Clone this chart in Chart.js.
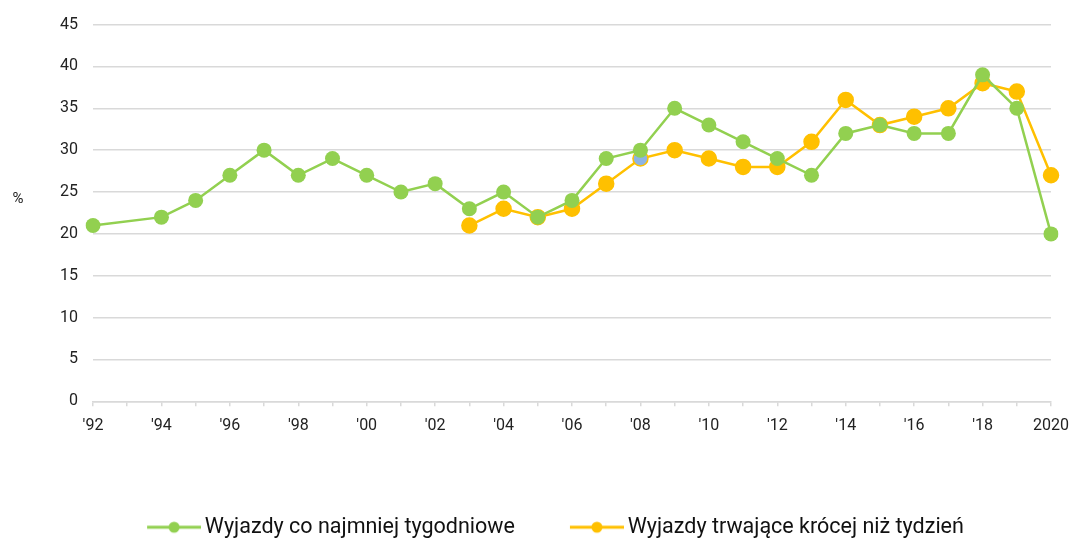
<!DOCTYPE html>
<html lang="pl">
<head>
<meta charset="utf-8">
<script src="https://cdn.jsdelivr.net/npm/chart.js@4"></script>
<style>
    html, body { margin: 0; padding: 0; background: #fff; }
    #wrap { width: 1079px; height: 538px; position: relative; }
</style>
</head>
<body>
<div id="wrap"><canvas id="chart" width="1079" height="538"></canvas></div>
<script>
// dane
const years = [];
for (let y = 1992; y <= 2020; y++) years.push(y);

const weeklyTrips = [21, null, 22, 24, 27, 30, 27, 29, 27, 25, 26, 23, 25, 22, 24, 29, 30, 35, 33, 31, 29, 27, 32, 33, 32, 32, 39, 35, 20];
const shortTrips = [null, null, null, null, null, null, null, null, null, null, null, 21, 23, 22, 23, 26, 29, 30, 29, 28, 28, 31, 36, 33, 34, 35, 38, 37, 27];

const seriesNames = ['Wyjazdy co najmniej tygodniowe', 'Wyjazdy trwające krócej niż tydzień'];
const green = '#92D050';
const orange = '#FFC000';
const highlightFill = '#8EB4E3';

// ikona legendy: linia z kropką (z pustym marginesem z lewej)
function legendIcon(color) {
    const m = 32;
    const c = document.createElement('canvas');
    c.width = m + 54;
    c.height = 14;
    const ctx = c.getContext('2d');
    ctx.strokeStyle = color;
    ctx.lineWidth = 3;
    ctx.beginPath();
    ctx.moveTo(m, 7);
    ctx.lineTo(m + 54, 7);
    ctx.stroke();
    ctx.fillStyle = color;
    ctx.beginPath();
    ctx.arc(m + 27, 7, 5.5, 0, Math.PI * 2);
    ctx.fill();
    return c;
}

// tytuł osi Y bez obrotu
const percentLabel = {
    id: 'percentLabel',
    afterDraw(chart) {
        const ctx = chart.ctx;
        ctx.save();
        ctx.font = '15px Roboto';
        ctx.fillStyle = '#222';
        ctx.textAlign = 'center';
        ctx.textBaseline = 'middle';
        ctx.fillText('%', 18, 199);
        ctx.restore();
    }
};

// kolor punktu 2008 w drugiej serii
const shortFill = years.map(y => y === 2008 ? highlightFill : orange);

const ctx = document.getElementById('chart').getContext('2d');
new Chart(ctx, {
    type: 'line',
    data: {
        labels: years,
        datasets: [{
            label: seriesNames[0],
            data: weeklyTrips,
            borderColor: green,
            backgroundColor: green,
            borderWidth: 2.5,
            pointRadius: 7.5,
            pointHoverRadius: 7.5,
            pointBorderWidth: 0,
            spanGaps: true,
            tension: 0
        }, {
            label: seriesNames[1],
            data: shortTrips,
            borderColor: orange,
            backgroundColor: shortFill,
            pointBorderColor: orange,
            borderWidth: 2.5,
            pointRadius: 7.5,
            pointHoverRadius: 7.5,
            pointBorderWidth: 1.5,
            spanGaps: false,
            tension: 0
        }]
    },
    options: {
        responsive: false,
        animation: false,
        maintainAspectRatio: false,
        layout: {
            padding: { left: 24, right: 17, top: 16, bottom: -10 }
        },
        scales: {
            x: {
                offset: false,
                grid: {
                    drawOnChartArea: false,
                    drawTicks: true,
                    tickLength: 5,
                    color: '#d9d9d9',
                    lineWidth: 1.5
                },
                border: { color: '#d9d9d9', width: 1.5 },
                ticks: {
                    autoSkip: false,
                    maxRotation: 0,
                    padding: 10,
                    color: '#222',
                    font: { family: 'Roboto', size: 16 },
                    callback: function(value, index) {
                        const y = years[index];
                        if (y % 2 !== 0) return '';
                        return y === 2020 ? '2020' : "'" + String(y).slice(2);
                    }
                },
                afterFit: function(axis) { axis.height += 41; }
            },
            y: {
                min: 0,
                max: 45,
                ticks: {
                    stepSize: 5,
                    padding: 15,
                    color: '#222',
                    font: { family: 'Roboto', size: 16 }
                },
                grid: {
                    color: '#d9d9d9',
                    lineWidth: 1.5,
                    drawTicks: false
                },
                border: { display: false },
                afterFit: function(axis) { axis.width = 69; }
            }
        },
        plugins: {
            legend: {
                position: 'bottom',
                labels: {
                    usePointStyle: true,
                    pointStyleWidth: 72,
                    padding: 30,
                    color: '#111',
                    font: { family: 'Roboto', size: 21.5 },
                    generateLabels: function(chart) {
                        return chart.data.datasets.map((ds, i) => ({
                            text: ds.label,
                            pointStyle: legendIcon(ds.borderColor),
                            fillStyle: ds.borderColor,
                            strokeStyle: ds.borderColor,
                            lineWidth: 0,
                            hidden: false,
                            datasetIndex: i,
                            fontColor: '#111'
                        }));
                    }
                }
            },
            tooltip: { enabled: false }
        }
    },
    plugins: [percentLabel]
});
</script>
</body>
</html>
